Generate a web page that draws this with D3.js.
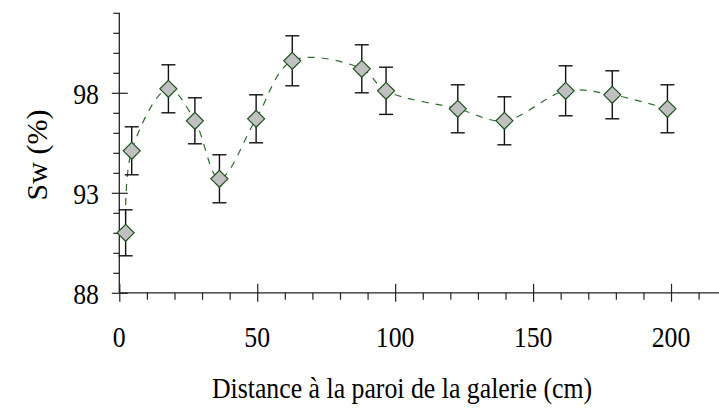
<!DOCTYPE html>
<html>
<head>
<meta charset="utf-8">
<script src="https://cdn.jsdelivr.net/npm/d3@7"></script>
</head>
<body style="margin:0">
<svg id="chart" width="719" height="408"></svg>
<script>
// Water saturation measured against distance from the gallery wall
const distance = [2.3, 4.5, 17.8, 27.4, 36.3, 49.6, 62.7, 87.9, 96.7, 122.7, 139.6, 161.8, 178.7, 198.7];
const saturation = [91.0, 95.1, 98.2, 96.6, 93.7, 96.7, 99.6, 99.2, 98.1, 97.2, 96.6, 98.1, 97.9, 97.2];
const errorBar = [1.15, 1.2, 1.2, 1.15, 1.2, 1.2, 1.25, 1.2, 1.18, 1.2, 1.2, 1.25, 1.2, 1.2];
const xMajorTicks = [0, 50, 100, 150, 200];
const xMinorTicks = d3.range(0, 221, 10);
const yMajorTicks = [88, 93, 98];
const yMinorTicks = d3.range(88, 103, 1);
const xTitle = "Distance à la paroi de la galerie (cm)";
const yTitle = "Sw (%)";

const svg = d3.select("#chart");
const fontSize = 30;
const squeeze = 0.86;

const x = d3.scaleLinear().domain([0, 220]).range([119.3, 726.2]);
const y = d3.scaleLinear().domain([88, 102]).range([292.8, 12.8]);

// Text helper: slightly condensed serif lettering
function label(tx, ty, str, anchor, rotate) {
  const g = svg.append("g").attr("transform",
    `translate(${tx},${ty})` + (rotate ? ` rotate(${rotate})` : ` scale(${squeeze},1)`));
  g.append("text")
    .attr("text-anchor", anchor)
    .attr("font-family", "Tinos")
    .attr("font-size", fontSize)
    .text(str);
  return g;
}

xMajorTicks.forEach(v => label(x(v), 347, String(v), "middle"));
yMajorTicks.forEach(v => label(99, y(v) + 11, String(v), "end"));
label(402, 398, xTitle, "middle");
label(47, 155, yTitle, "middle", -90);

const axisColor = "#222";

// Tick marks only; the labels above are set separately
function tidy(g, inner) {
  g.attr("font-family", null).attr("font-size", null);
  g.select(".domain").remove();
  g.selectAll(".tick text").remove();
  g.selectAll(".tick line").attr("stroke", axisColor).attr("stroke-width", 1.2);
  if (inner) inner(g.selectAll(".tick line"));
}

// Horizontal axis: minor ticks below, major ticks crossing the line
const xAxisG = svg.append("g").attr("transform", `translate(0,${y(88)})`);
xAxisG.append("line").attr("x1", x(0)).attr("x2", 719)
  .attr("stroke", axisColor).attr("stroke-width", 1.3);
xAxisG.append("g")
  .call(d3.axisBottom(x).tickValues(xMinorTicks.filter(v => !xMajorTicks.includes(v))).tickSize(7))
  .call(g => tidy(g));
xAxisG.append("g")
  .call(d3.axisBottom(x).tickValues(xMajorTicks).tickSize(9))
  .call(g => tidy(g, l => l.attr("y1", -9)));

// Vertical axis
const yAxisG = svg.append("g").attr("transform", `translate(${x(0)},0)`);
yAxisG.append("line").attr("y1", y(102)).attr("y2", y(88))
  .attr("stroke", axisColor).attr("stroke-width", 1.3);
yAxisG.append("g")
  .call(d3.axisLeft(y).tickValues(yMinorTicks.filter(v => !yMajorTicks.includes(v))).tickSize(6))
  .call(g => tidy(g));
yAxisG.append("g")
  .call(d3.axisLeft(y).tickValues(yMajorTicks).tickSize(7.5))
  .call(g => tidy(g, l => l.attr("x1", 8.5)));

// Smoothed dashed trend through the means
const line = d3.line()
  .x((d, i) => x(distance[i]))
  .y(d => y(d))
  .curve(d3.curveCatmullRom.alpha(0.5));
svg.append("path")
  .attr("d", line(saturation))
  .attr("fill", "none")
  .attr("stroke", "#2f6b2f")
  .attr("stroke-width", 1.2)
  .attr("stroke-dasharray", "7,7");

// Error bars
const bars = svg.append("g").attr("stroke", "#111").attr("stroke-width", 1.4);
saturation.forEach((v, i) => {
  const cx = x(distance[i]);
  const top = y(v + errorBar[i]), bot = y(v - errorBar[i]);
  bars.append("line").attr("x1", cx).attr("x2", cx).attr("y1", top).attr("y2", bot);
  bars.append("line").attr("x1", cx - 7).attr("x2", cx + 7).attr("y1", top).attr("y2", top);
  bars.append("line").attr("x1", cx - 7).attr("x2", cx + 7).attr("y1", bot).attr("y2", bot);
});

// Diamond markers
const diamond = d3.symbol().type(d3.symbolDiamond2).size(184);
svg.append("g").selectAll("path.marker")
  .data(saturation)
  .join("path")
  .attr("class", "marker")
  .attr("d", diamond)
  .attr("transform", (d, i) => `translate(${x(distance[i])},${y(d)})`)
  .attr("fill", "#c0c0c0")
  .attr("stroke", "#1f521f")
  .attr("stroke-width", 1.2);
</script>
</body>
</html>
